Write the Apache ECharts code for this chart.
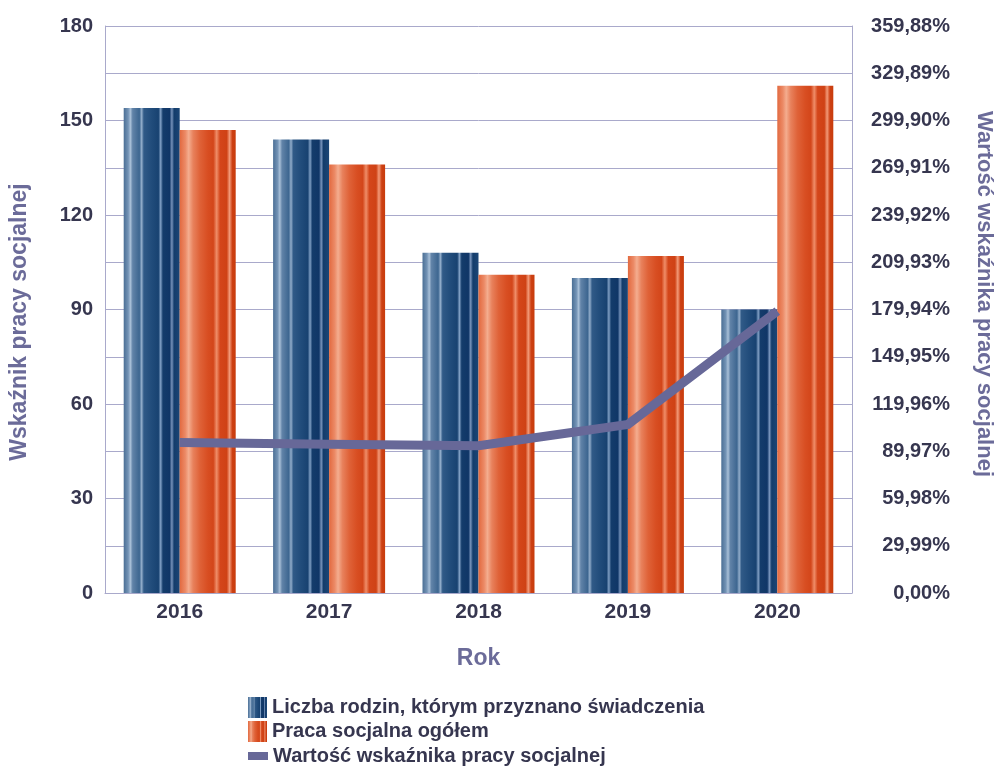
<!DOCTYPE html>
<html>
<head>
<meta charset="utf-8">
<script src="https://cdn.jsdelivr.net/npm/echarts@6/dist/echarts.min.js"></script>
<style>
html,body{margin:0;padding:0;background:#fff;}
#chart{width:997px;height:766px;}
</style>
</head>
<body>
<div id="chart"></div>
<script>
// ---- data ----
var years = ['2016', '2017', '2018', '2019', '2020'];
var families = [154, 144, 108, 100, 90];
var socialWork = [147, 136, 101, 107, 161];
var ratioPct = [95.5, 94.4, 93.5, 107.0, 178.9];
var seriesNames = [
  'Liczba rodzin, którym przyznano świadczenia',
  'Praca socjalna ogółem',
  'Wartość wskaźnika pracy socjalnej'
];
var leftAxisName = 'Wskaźnik pracy socjalnej';
var rightAxisName = 'Wartość wskaźnika pracy socjalnej';
var xAxisName = 'Rok';

var chart = echarts.init(document.getElementById('chart'), null, {renderer: 'canvas'});

var blueGrad = new echarts.graphic.LinearGradient(0, 0, 1, 0, [
  {offset: 0, color: '#4b6f95'},
  {offset: 0.08, color: '#7393b5'},
  {offset: 0.12, color: '#a9c0d8'},
  {offset: 0.16, color: '#6183a8'},
  {offset: 0.28, color: '#3d6690'},
  {offset: 0.32, color: '#93aecb'},
  {offset: 0.36, color: '#305a87'},
  {offset: 0.5, color: '#214c7b'},
  {offset: 0.62, color: '#184271'},
  {offset: 0.66, color: '#809fc4'},
  {offset: 0.70, color: '#143c6b'},
  {offset: 0.82, color: '#103667'},
  {offset: 0.86, color: '#7793bb'},
  {offset: 0.90, color: '#133c6b'},
  {offset: 1, color: '#1c4676'}
]);
var orangeGrad = new echarts.graphic.LinearGradient(0, 0, 1, 0, [
  {offset: 0, color: '#e2693f'},
  {offset: 0.1, color: '#ec8a66'},
  {offset: 0.16, color: '#f4ad8f'},
  {offset: 0.24, color: '#e8815c'},
  {offset: 0.36, color: '#df6238'},
  {offset: 0.5, color: '#d84e22'},
  {offset: 0.6, color: '#d3461a'},
  {offset: 0.66, color: '#ef8d68'},
  {offset: 0.72, color: '#d4461a'},
  {offset: 0.84, color: '#cf4215'},
  {offset: 0.89, color: '#f29a78'},
  {offset: 0.94, color: '#cd4013'},
  {offset: 1, color: '#c83c0c'}
]);

var labelColor = '#36364f';
var nameColor = '#6b6b99';
var gridColor = '#a9a9cb';
var fontFam = 'Liberation Sans, Arial, sans-serif';

function legendCfg(idx, top, w, h) {
  return {
    data: [seriesNames[idx]], left: 243, top: top, orient: 'vertical',
    icon: 'rect', itemWidth: w, itemHeight: h, itemGap: 0,
    textStyle: {color: labelColor, fontSize: 20, fontWeight: 'bold', fontFamily: fontFam},
    selectedMode: false
  };
}

var option = {
  backgroundColor: '#ffffff',
  animation: false,
  grid: {left: 105, right: 145, top: 26, bottom: 173, containLabel: false},
  legend: [
    legendCfg(0, 692, 19, 21),
    legendCfg(1, 716, 19, 21),
    legendCfg(2, 741, 20, 8)
  ],
  xAxis: {
    type: 'category',
    data: years,
    boundaryGap: true,
    name: xAxisName,
    nameLocation: 'middle',
    nameGap: 54,
    nameTextStyle: {color: nameColor, fontSize: 23, fontWeight: 'bold', fontFamily: fontFam},
    axisLine: {show: true, lineStyle: {color: gridColor, width: 1}},
    axisTick: {show: false},
    axisLabel: {color: labelColor, fontSize: 21, fontWeight: 'bold', fontFamily: fontFam, margin: 9}
  },
  yAxis: [
    {
      type: 'value',
      min: 0, max: 180, interval: 15,
      position: 'left',
      axisLine: {show: true, lineStyle: {color: gridColor, width: 1}},
      axisTick: {show: false},
      splitLine: {show: true, lineStyle: {color: gridColor, width: 1}},
      axisLabel: {
        color: labelColor, fontSize: 20, fontWeight: 'bold', fontFamily: fontFam, margin: 12,
        formatter: function (v) { return (Math.round(v) % 30 === 0) ? String(Math.round(v)) : ''; }
      }
    },
    {
      type: 'value',
      min: 0, max: 359.88, interval: 29.99,
      position: 'right',
      axisLine: {show: true, lineStyle: {color: gridColor, width: 1}},
      axisTick: {show: false},
      splitLine: {show: false},
      axisLabel: {
        color: labelColor, fontSize: 20, fontWeight: 'bold', fontFamily: fontFam,
        margin: 98, align: 'right',
        formatter: function (v) { return v.toFixed(2).replace('.', ',') + '%'; }
      }
    }
  ],
  graphic: [
    {
      type: 'text', x: 20, y: 322, rotation: Math.PI / 2,
      style: {text: leftAxisName, fill: nameColor, font: 'bold 23px ' + fontFam, textAlign: 'center', textVerticalAlign: 'middle'}
    },
    {
      type: 'text', x: 984, y: 294, rotation: -Math.PI / 2,
      style: {text: rightAxisName, fill: nameColor, font: 'bold 22px ' + fontFam, textAlign: 'center', textVerticalAlign: 'middle'}
    }
  ],
  series: [
    {
      name: seriesNames[0], type: 'bar', yAxisIndex: 0,
      data: families, barWidth: 56, barGap: '0%',
      itemStyle: {color: blueGrad}
    },
    {
      name: seriesNames[1], type: 'bar', yAxisIndex: 0,
      data: socialWork, barWidth: 56, barGap: '0%',
      itemStyle: {color: orangeGrad}
    },
    {
      name: seriesNames[2], type: 'line', yAxisIndex: 1,
      data: ratioPct, symbol: 'none', z: 5,
      color: '#676898',
      lineStyle: {color: '#676898', width: 9, cap: 'butt', join: 'miter'},
      itemStyle: {color: '#676898'}
    }
  ]
};
chart.setOption(option);
</script>
</body>
</html>
